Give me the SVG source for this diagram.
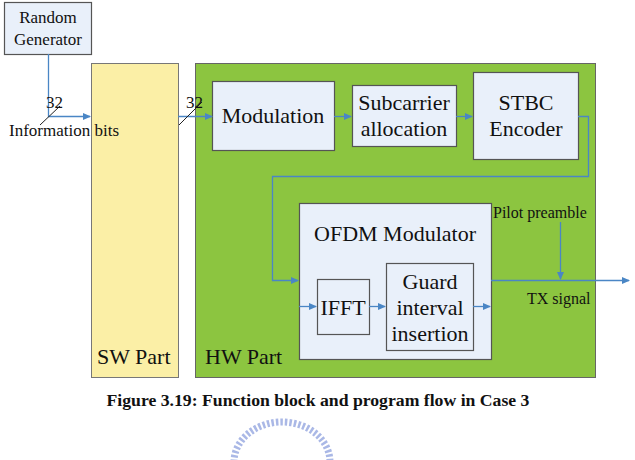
<svg xmlns="http://www.w3.org/2000/svg" width="635" height="460" viewBox="0 0 635 460">
<style>
.box{fill:#e9f0fa;stroke:#555;stroke-width:1.2;}
.c{fill:none;stroke:#4a86c5;stroke-width:1.3;}
.s{stroke:#222;stroke-width:1;}
text{fill:#111;}
</style>
<defs>
<marker id="a" markerWidth="8" markerHeight="8" refX="7" refY="4" orient="auto" markerUnits="userSpaceOnUse">
<path d="M0,0.5 L8,4 L0,7.5 Z" fill="#4a86c5"/>
</marker>
</defs>
<rect width="635" height="460" fill="#fff"/>
<g font-family="Liberation Serif, Times New Roman, DejaVu Serif, serif">
<g id="sw"><rect x="91.5" y="63.5" width="87" height="314" fill="#fbefa6" stroke="#777"/><text x="97" y="364" font-size="22">SW Part</text></g>
<g id="hw"><rect x="195.5" y="63.5" width="400" height="314" fill="#8cc540" stroke="#666"/><text x="205" y="364" font-size="22">HW Part</text></g>
<g id="rg"><rect class="box" x="4.5" y="2.5" width="87" height="52"/><text x="48" y="23" font-size="17" text-anchor="middle">Random</text><text x="48" y="45" font-size="17" text-anchor="middle">Generator</text></g>
<g id="mod"><rect class="box" x="212.5" y="81.5" width="122" height="69"/><text x="273" y="123" font-size="22" text-anchor="middle">Modulation</text></g>
<g id="sub"><rect class="box" x="352.5" y="85.5" width="104" height="61"/><text x="404" y="110" font-size="22" text-anchor="middle">Subcarrier</text><text x="404" y="136" font-size="22" text-anchor="middle">allocation</text></g>
<g id="stbc"><rect class="box" x="473.5" y="72.5" width="105" height="87"/><text x="526" y="110" font-size="22" text-anchor="middle">STBC</text><text x="526" y="136" font-size="22" text-anchor="middle">Encoder</text></g>
<g id="ofdm"><rect class="box" x="299.5" y="203.5" width="192" height="156"/><text x="395" y="241" font-size="22" text-anchor="middle">OFDM Modulator</text></g>
<g id="ifft"><rect class="box" x="317.5" y="279.5" width="52" height="55"/><text x="343" y="315" font-size="22" text-anchor="middle">IFFT</text></g>
<g id="guard"><rect class="box" x="386.5" y="263.5" width="87" height="87"/><text x="430" y="289" font-size="22" text-anchor="middle">Guard</text><text x="430" y="315" font-size="22" text-anchor="middle">interval</text><text x="430" y="341" font-size="22" text-anchor="middle">insertion</text></g>
<g id="connectors">
<path class="c" d="M48.5,54 V116.5 H90" marker-end="url(#a)"/>
<path class="c" d="M178,116.5 H212" marker-end="url(#a)"/>
<path class="c" d="M334,116.5 H351" marker-end="url(#a)"/>
<path class="c" d="M456,116.5 H472" marker-end="url(#a)"/>
<path class="c" d="M578,116.5 H588.5 V176.5 H272.5 V280.5 H298" marker-end="url(#a)"/>
<path class="c" d="M299,306.5 H316" marker-end="url(#a)"/>
<path class="c" d="M369,306.5 H385" marker-end="url(#a)"/>
<path class="c" d="M473,306.5 H490" marker-end="url(#a)"/>
<path class="c" d="M491,280.5 H629" marker-end="url(#a)"/>
<path class="c" d="M560.5,222 V279" marker-end="url(#a)"/>
<line class="s" x1="40" y1="125" x2="60" y2="106"/>
<line class="s" x1="179" y1="125" x2="202" y2="102"/>
</g>
<g id="labels">
<text x="46" y="108" font-size="17">32</text>
<text x="186" y="108" font-size="17">32</text>
<text x="9" y="136" font-size="17">Information bits</text>
<text x="493" y="218" font-size="16">Pilot preamble</text>
<text x="527" y="304" font-size="16">TX signal</text>
</g>
<text x="318" y="406" font-weight="bold" font-size="17.7" text-anchor="middle">Figure 3.19: Function block and program flow in Case 3</text>
</g>
<path d="M234,462 A48,40 0 0 1 330,462" fill="none" stroke="#aab8e6" stroke-width="7" stroke-dasharray="2.5 2"/>
</svg>
